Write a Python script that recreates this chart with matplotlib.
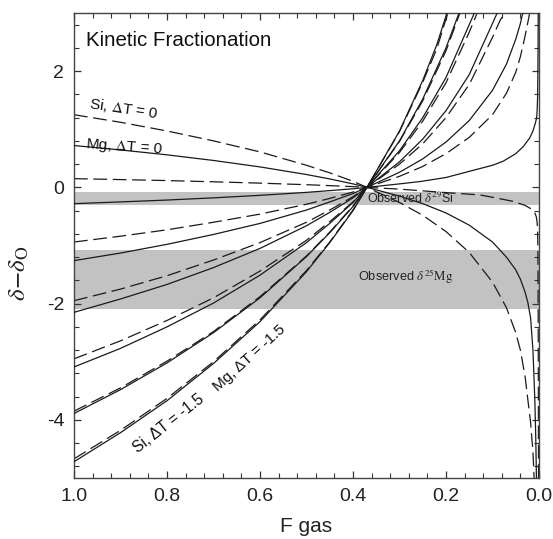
import matplotlib
matplotlib.use("Agg")
import matplotlib.pyplot as plt
from matplotlib.ticker import MultipleLocator, FixedLocator

plt.rcParams['font.family'] = ['Liberation Sans', 'DejaVu Sans']
plt.rcParams['mathtext.fontset'] = 'stix'

# ---- data: (F gas, delta - delta0) ----
F_left = [1.0, 0.9, 0.8, 0.7, 0.6, 0.5, 0.45, 0.4, 0.37]

# Si curves (dashed), delta T = 0, -0.25, -0.5, -0.75, -1.0, -1.25, -1.5
si0_L = [1.25, 1.12, 0.97, 0.80, 0.61, 0.38, 0.25, 0.105, 0.0]
si0_F = [0.3, 0.25, 0.2, 0.15, 0.1, 0.07, 0.05, 0.04, 0.03, 0.024, 0.018, 0.013, 0.0105]
si0_R = [-0.26, -0.48, -0.76, -1.12, -1.63, -2.07, -2.5, -2.8, -3.25, -3.65, -4.05, -4.55, -5.0]

si1_L = [0.15, 0.134, 0.117, 0.096, 0.073, 0.046, 0.030, 0.013, 0.0]
si1_F = [0.3, 0.2, 0.127, 0.1, 0.056, 0.03, 0.019, 0.01, 0.006, 0.004, 0.003, 0.0025, 0.002, 0.0015, 0.001]
si1_R = [-0.03, -0.09, -0.13, -0.17, -0.24, -0.31, -0.36, -0.42, -0.5, -0.6, -0.75, -1.0, -1.6, -3.0, -5.0]

si2_L = [-0.94, -0.84, -0.73, -0.60, -0.46, -0.29, -0.19, -0.08, 0.0]
si2_F = [0.3, 0.25, 0.2, 0.15, 0.1, 0.07, 0.05, 0.04, 0.03, 0.025, 0.02]
si2_R = [0.19, 0.36, 0.58, 0.86, 1.25, 1.62, 1.98, 2.25, 2.6, 2.8, 3.0]

si3_L = [-1.95, -1.75, -1.52, -1.25, -0.95, -0.60, -0.39, -0.16, 0.0]
si3_F = [0.3, 0.25, 0.2, 0.15, 0.1, 0.085, 0.075]
si3_R = [0.40, 0.75, 1.2, 1.77, 2.58, 2.85, 3.0]

si4_L = [-2.95, -2.64, -2.29, -1.90, -1.44, -0.91, -0.59, -0.25, 0.0]
si4_F = [0.3, 0.25, 0.2, 0.15, 0.133]
si4_R = [0.6, 1.14, 1.8, 2.67, 3.0]

si5_L = [-3.85, -3.45, -2.99, -2.48, -1.88, -1.18, -0.77, -0.32, 0.0]
si5_F = [0.3, 0.25, 0.2, 0.17]
si5_R = [0.79, 1.49, 2.35, 3.0]

si6_L = [-4.67, -4.18, -3.63, -3.00, -2.28, -1.43, -0.94, -0.39, 0.0]
si6_F = [0.3, 0.25, 0.22, 0.196]
si6_R = [0.96, 1.81, 2.38, 3.0]

# Mg curves (solid)
mg0_L = [0.72, 0.644, 0.56, 0.463, 0.352, 0.221, 0.145, 0.06, 0.0]
mg0_F = [0.3, 0.25, 0.2, 0.15, 0.1, 0.07, 0.05, 0.04, 0.03, 0.024, 0.018, 0.013, 0.009, 0.007, 0.0055]
mg0_R = [-0.15, -0.28, -0.44, -0.65, -0.94, -1.2, -1.42, -1.58, -1.8, -1.98, -2.25, -2.8, -3.65, -4.3, -5.0]

mg1_L = [-0.28, -0.25, -0.218, -0.18, -0.137, -0.086, -0.056, -0.024, 0.0]
mg1_F = [0.3, 0.256, 0.2, 0.148, 0.1, 0.077, 0.05, 0.034, 0.02, 0.013, 0.008, 0.005, 0.004, 0.003, 0.0025, 0.002, 0.0017]
mg1_R = [0.06, 0.10, 0.17, 0.28, 0.38, 0.45, 0.58, 0.70, 0.85, 0.97, 1.1, 1.2, 1.32, 1.55, 1.9, 2.4, 3.0]

mg2_L = [-1.26, -1.13, -0.98, -0.81, -0.62, -0.39, -0.25, -0.106, 0.0]
mg2_F = [0.3, 0.25, 0.2, 0.15, 0.1, 0.07, 0.05, 0.04, 0.035]
mg2_R = [0.26, 0.49, 0.78, 1.15, 1.67, 2.12, 2.55, 2.82, 3.0]

mg3_L = [-2.15, -1.92, -1.67, -1.38, -1.05, -0.66, -0.43, -0.18, 0.0]
mg3_F = [0.3, 0.25, 0.2, 0.15, 0.1, 0.09]
mg3_R = [0.44, 0.83, 1.32, 1.94, 2.82, 3.0]

mg4_L = [-3.09, -2.77, -2.40, -1.99, -1.51, -0.95, -0.62, -0.26, 0.0]
mg4_F = [0.3, 0.25, 0.2, 0.15, 0.139]
mg4_R = [0.63, 1.2, 1.89, 2.8, 3.0]

mg5_L = [-3.89, -3.48, -3.02, -2.50, -1.90, -1.19, -0.78, -0.33, 0.0]
mg5_F = [0.3, 0.25, 0.2, 0.172]
mg5_R = [0.8, 1.52, 2.4, 3.0]

mg6_L = [-4.72, -4.22, -3.67, -3.03, -2.31, -1.45, -0.95, -0.40, 0.0]
mg6_F = [0.3, 0.25, 0.22, 0.198]
mg6_R = [0.97, 1.84, 2.45, 3.0]

# observed bands
si_band = [-0.30, -0.08]
mg_band = [-2.10, -1.08]

x_ticks = [1.0, 0.8, 0.6, 0.4, 0.2, 0.0]
x_ticklabels = ['1.0', '0.8', '0.6', '0.4', '0.2', '0.0']
y_ticks = [-4, -2, 0, 2]
y_ticklabels = ['-4', '-2', '0', '2']

si_curves = [(si0_L, si0_F, si0_R), (si1_L, si1_F, si1_R), (si2_L, si2_F, si2_R),
             (si3_L, si3_F, si3_R), (si4_L, si4_F, si4_R), (si5_L, si5_F, si5_R),
             (si6_L, si6_F, si6_R)]
mg_curves = [(mg0_L, mg0_F, mg0_R), (mg1_L, mg1_F, mg1_R), (mg2_L, mg2_F, mg2_R),
             (mg3_L, mg3_F, mg3_R), (mg4_L, mg4_F, mg4_R), (mg5_L, mg5_F, mg5_R),
             (mg6_L, mg6_F, mg6_R)]

# ---- figure ----
fig = plt.figure(figsize=(5.53, 5.39), dpi=100)
ax = fig.add_axes([74/553, 61/539, 465/553, 465/539])

ax.axhspan(si_band[0], si_band[1], color='#c2c2c2', lw=0, zorder=0)
ax.axhspan(mg_band[0], mg_band[1], color='#c2c2c2', lw=0, zorder=0)

line_col = '#1a1a1a'
for L, Fr, R in si_curves:
    ax.plot(F_left + Fr, L + R, color=line_col, lw=0.9, dashes=(11, 4.5), zorder=2)
for L, Fr, R in mg_curves:
    ax.plot(F_left + Fr, L + R, color=line_col, lw=0.9, zorder=3)

ax.set_xlim(1.0, 0.0)
ax.set_ylim(-5, 3)

ax.xaxis.set_major_locator(FixedLocator(x_ticks))
ax.set_xticklabels(x_ticklabels)
ax.xaxis.set_minor_locator(MultipleLocator(0.04))
ax.yaxis.set_major_locator(FixedLocator(y_ticks))
ax.set_yticklabels(y_ticklabels)
ax.yaxis.set_minor_locator(MultipleLocator(0.4))

ax.tick_params(which='both', direction='in', top=True, right=True,
               labelsize=14, colors='#333333', labelcolor='#222222')
ax.tick_params(which='major', length=5, width=0.9, pad=7)
ax.tick_params(which='minor', length=3.5, width=0.8)
for s in ax.spines.values():
    s.set_color('#444444')
    s.set_linewidth(1.0)

ax.set_xlabel('F gas', fontsize=15, color='#222222', labelpad=9)
ax.set_ylabel(r'$\delta\!-\!\delta_{\rm O}$', fontsize=18, color='#222222', labelpad=2)
ax.yaxis.set_label_coords(-0.092, 0.44)

# annotations
ax.text(0.974, 2.52, 'Kinetic Fractionation', fontsize=14.8, color='#111111',
        ha='left', va='center')
ax.text(0.968, 1.36, r'Si, $\Delta$T = 0', fontsize=11, rotation=-8.5,
        rotation_mode='anchor', ha='left', va='baseline', color='#111111')
ax.text(0.976, 0.68, r'Mg, $\Delta$T = 0', fontsize=11, rotation=-4,
        rotation_mode='anchor', ha='left', va='baseline', color='#111111')
ax.text(0.862, -4.57, 'Si, \u0394T = -1.5', fontsize=11.2, rotation=38,
        rotation_mode='anchor', ha='left', va='baseline', color='#111111')
ax.text(0.690, -3.51, 'Mg, \u0394T = -1.5', fontsize=11, rotation=42,
        rotation_mode='anchor', ha='left', va='baseline', color='#111111')
ax.text(0.37, -0.27, r'Observed $\delta^{29}$Si', fontsize=9,
        ha='left', va='baseline', color='#222222')
ax.text(0.389, -1.61, r'Observed $\delta^{25}\mathrm{Mg}$', fontsize=9.2,
        ha='left', va='baseline', color='#222222')

fig.savefig('out.png', dpi=100)
